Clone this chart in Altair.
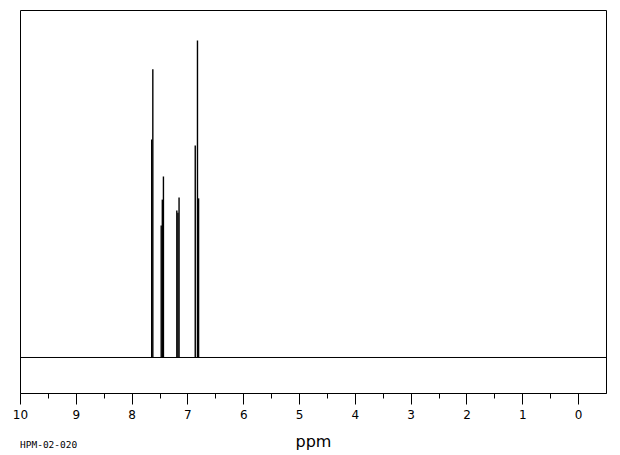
import altair as alt
import pandas as pd

# Peak positions (ppm) and relative intensities
peak_ppm = [7.64, 7.62, 7.47, 7.45, 7.43, 7.19, 7.17, 7.15, 6.86, 6.82, 6.80]
peak_height = [68.8, 90.9, 41.6, 49.8, 57.1, 46.4, 45.7, 50.5, 66.9, 100.0, 50.2]

tick_values = [10, 9.5, 9, 8.5, 8, 7.5, 7, 6.5, 6, 5.5, 5, 4.5, 4, 3.5, 3, 2.5, 2, 1.5, 1, 0.5, 0]
x_domain = [10, -0.5]
y_domain = [-11.20, 109.62]
sample_id = ["HPM-02-020"]

peaks = pd.DataFrame({"ppm": peak_ppm, "height": peak_height})
base = pd.DataFrame({"level": [0.0]})
note = pd.DataFrame({"label": sample_id})

xscale = alt.Scale(domain=x_domain, nice=False, zero=False)
yscale = alt.Scale(domain=y_domain, nice=False, zero=False)

xaxis = alt.Axis(
    values=tick_values,
    tickSize={"condition": {"test": "datum.value % 1 === 0", "value": 11}, "value": 5},
    tickColor="black",
    tickWidth=1,
    domainColor="black",
    domainWidth=1,
    grid=False,
    labelExpr="datum.value % 1 === 0 ? format(datum.value, 'd') : ''",
    labelFont="DejaVu Sans",
    labelFontSize=12,
    labelColor="black",
    labelPadding=5,
    labelFlush=False,
    labelOverlap=False,
    title="ppm",
    titleFont="DejaVu Sans",
    titleFontSize=16,
    titleFontWeight="normal",
    titleColor="black",
    titleBaseline="alphabetic",
    titleY=53,
)

baseline = alt.Chart(base).mark_rule(color="black", strokeWidth=1).encode(
    y=alt.Y("level:Q", scale=yscale, axis=None)
)

lines = alt.Chart(peaks).mark_rule(color="black", strokeWidth=1.4).encode(
    x=alt.X("ppm:Q", scale=xscale, axis=xaxis),
    y=alt.Y("height:Q", scale=yscale, axis=None),
    y2=alt.datum(0),
)

label = alt.Chart(note).mark_text(
    font="DejaVu Sans Mono", fontSize=9.5, align="left", baseline="alphabetic", color="black"
).encode(
    text="label:N",
    x=alt.value(0),
    y=alt.value(438),
)

chart = alt.layer(baseline, lines, label).properties(
    width=586,
    height=383,
    autosize="none",
    padding={"left": 20, "top": 10, "right": 14, "bottom": 62},
    background="white",
).configure_view(stroke="black", strokeWidth=1)

chart.save("out.html", embed_options={"renderer": "svg", "actions": False})
